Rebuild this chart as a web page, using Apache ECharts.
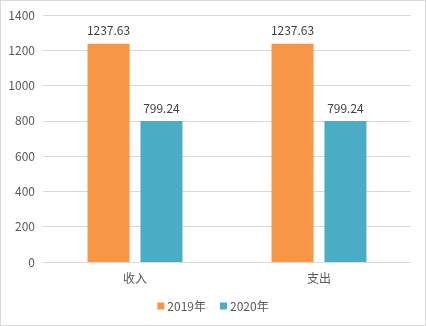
<!DOCTYPE html>
<html>
<head>
<meta charset="utf-8">
<script src="https://cdn.jsdelivr.net/npm/echarts@6/dist/echarts.min.js"></script>
<style>
  html, body { margin: 0; padding: 0; background: #fff; }
  #chart { width: 424px; height: 324px; border: 1px solid #d9d9d9; }
</style>
</head>
<body>
<div id="chart"></div>
<script>
// Income / expenditure comparison, 2019 vs 2020
const categories = ['收入', '支出'];
const seriesNames = ['2019年', '2020年'];
const values2019 = [1237.63, 1237.63];
const values2020 = [799.24, 799.24];
const yTicks = [0, 200, 400, 600, 800, 1000, 1200, 1400];

const fontFamily = '"Microsoft YaHei", "Noto Sans CJK SC", "Noto Sans", sans-serif';
const textColor = '#595959';

const chart = echarts.init(document.getElementById('chart'), null, { renderer: 'canvas' });

function barSeries(name, data, color) {
  return {
    name: name,
    type: 'bar',
    data: data,
    barWidth: 42,
    barGap: '26%',
    itemStyle: { color: color },
    label: {
      show: true,
      position: 'top',
      distance: 7,
      color: '#404040',
      fontSize: 12,
      fontFamily: fontFamily,
      formatter: p => p.value.toFixed(2)
    }
  };
}

chart.setOption({
  animation: false,
  textStyle: { fontFamily: fontFamily },
  grid: { left: 42, right: 14, top: 14, bottom: 63 },
  legend: {
    data: seriesNames,
    bottom: 8,
    left: 'center',
    itemWidth: 7,
    itemHeight: 7,
    itemGap: 14,
    icon: 'rect',
    textStyle: { color: textColor, fontSize: 12, fontFamily: fontFamily, padding: [0, 0, 0, -2] }
  },
  xAxis: {
    type: 'category',
    data: categories,
    axisLine: { lineStyle: { color: '#d9d9d9' } },
    axisTick: { show: false },
    axisLabel: { color: textColor, fontSize: 12, margin: 10, fontFamily: fontFamily }
  },
  yAxis: {
    type: 'value',
    min: yTicks[0],
    max: yTicks[yTicks.length - 1],
    interval: 200,
    axisLine: { show: false },
    axisTick: { show: false },
    splitLine: { lineStyle: { color: '#d9d9d9' } },
    axisLabel: {
      color: textColor,
      fontSize: 12,
      margin: 8,
      fontFamily: fontFamily,
      formatter: v => String(v)
    }
  },
  series: [
    barSeries(seriesNames[0], values2019, '#F79646'),
    barSeries(seriesNames[1], values2020, '#4BACC6')
  ]
});
</script>
</body>
</html>
